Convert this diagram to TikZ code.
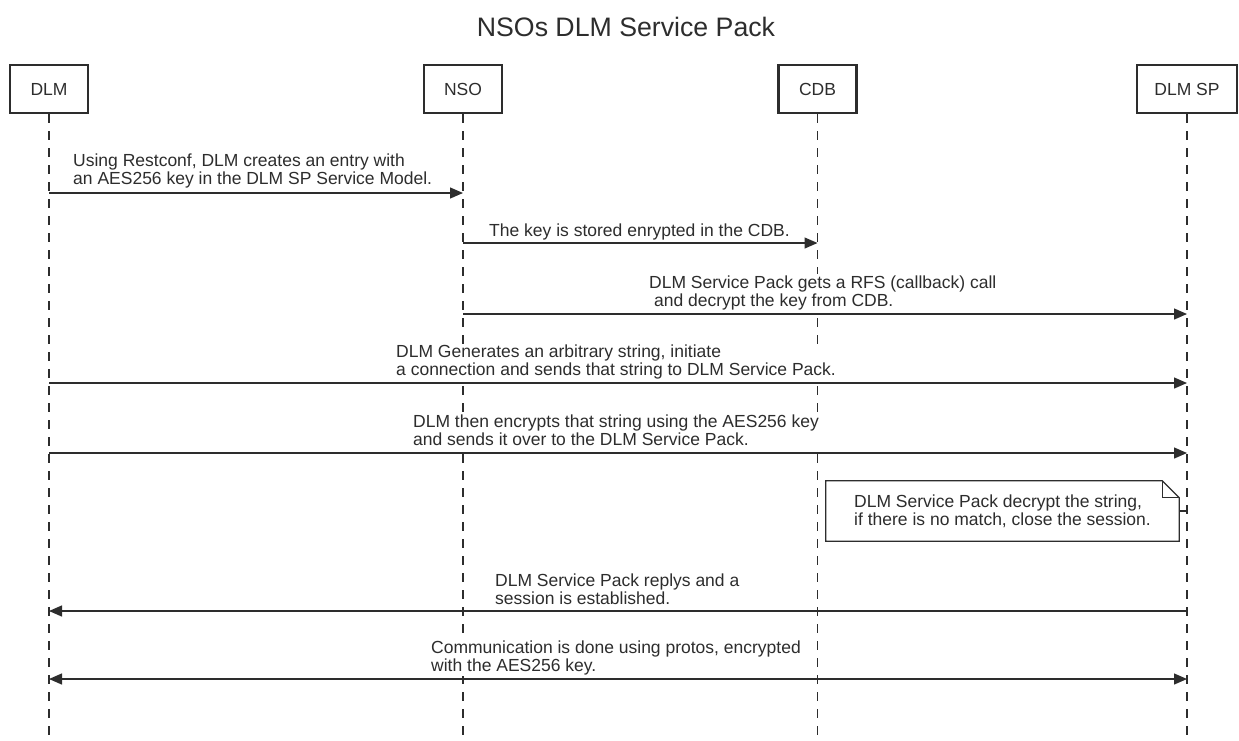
\documentclass[tikz,border=0pt]{standalone}
\usepackage{fontspec}
\setmainfont{Liberation Sans}
\usepackage{tikz}
\usetikzlibrary{arrows.meta, positioning, calc}
\definecolor{inkcolor}{RGB}{45,45,45}
\newcommand\msgfont{\fontsize{17.5}{18}\selectfont}

\begin{document}
\begin{tikzpicture}[
    x=1pt, y=-1pt,
    every node/.style={text=inkcolor},
    actor/.style={draw=inkcolor, line width=2.4pt, minimum width=78pt, minimum height=48pt, inner sep=0pt, font=\msgfont},
    lifeline/.style={draw=inkcolor, line width=1.4pt, dash pattern=on 9pt off 8pt},
    msg/.style={draw=inkcolor, line width=1.3pt, -{Triangle[length=13pt, width=11pt]}},
    msgboth/.style={draw=inkcolor, line width=1.3pt, {Triangle[length=13pt, width=11pt]}-{Triangle[length=13pt, width=11pt]}},
    msglabel/.style={anchor=west, align=left, fill=white, inner xsep=0pt, inner ysep=1pt, font=\msgfont},
    notebox/.style={minimum width=353pt, minimum height=60pt, inner sep=0pt, align=left, font=\msgfont},
]
    \useasboundingbox (0,0) rectangle (1239,740);

    % Title
    \node[font=\fontsize{26.7}{30}\selectfont] (title) at (626,27) {NSOs DLM Service Pack};

    % Participants
    \node[actor] (dlm) at (49,89) {DLM};
    \node[actor] (nso) at (463,89) {NSO};
    \node[actor] (cdb) at (817.5,89) {CDB};
    \node[actor, minimum width=100pt] (dlmsp) at (1187,89) {DLM SP};

    % Lifelines
    \coordinate (bottom) at (0,737);
    \foreach \p in {dlm,nso,cdb,dlmsp}
        \draw[lifeline] (\p.south) -- (\p |- bottom);

    % Message rows
    \coordinate (m1) at (0,193);
    \coordinate (m2) at (0,243);
    \coordinate (m3) at (0,314);
    \coordinate (m4) at (0,383);
    \coordinate (m5) at (0,453);
    \coordinate (m7) at (0,611);
    \coordinate (m8) at (0,679);

    % Messages
    \draw[msg] (dlm |- m1) -- (nso |- m1);
    \node[msglabel] (t1) at (73,171) {Using Restconf, DLM creates an entry with\\an AES256 key in the DLM SP Service Model.};

    \draw[msg] (nso |- m2) -- (cdb |- m2);
    \node[msglabel] (t2) at (489,232) {The key is stored enrypted in the CDB.};

    \draw[msg] (nso |- m3) -- (dlmsp |- m3);
    \node[msglabel] (t3) at (649,292.5) {DLM Service Pack gets a RFS (callback) call\\\hspace*{0.28em}and decrypt the key from CDB.};

    \draw[msg] (dlm |- m4) -- (dlmsp |- m4);
    \node[msglabel] (t4) at (396,362) {DLM Generates an arbitrary string, initiate\\a connection and sends that string to DLM Service Pack.};

    \draw[msg] (dlm |- m5) -- (dlmsp |- m5);
    \node[msglabel] (t5) at (413,430.5) {DLM then encrypts that string using the AES256 key\\and sends it over to the DLM Service Pack.};

    % Note
    \node[notebox] (note) at (1002.5,511) {DLM Service Pack decrypt the string,\\if there is no match, close the session.};
    \draw[draw=inkcolor, line width=1.2pt, fill=white] (note.north west) -- ([xshift=-17pt]note.north east) -- ([yshift=-17pt]note.north east) -- (note.south east) -- (note.south west) -- cycle;
    \draw[draw=inkcolor, line width=1.2pt] ([xshift=-17pt]note.north east) -- ++(0,17) -- ([yshift=-17pt]note.north east);
    \node[notebox] at (note) {DLM Service Pack decrypt the string,\\if there is no match, close the session.};
    \draw[draw=inkcolor, line width=1.2pt] (note.east) -- (dlmsp |- note.east);

    \draw[msg] (dlmsp |- m7) -- (dlm |- m7);
    \node[msglabel] (t7) at (495,589) {DLM Service Pack replys and a\\session is established.};

    \draw[msgboth] (dlm |- m8) -- (dlmsp |- m8);
    \node[msglabel] (t8) at (431,657.5) {Communication is done using protos, encrypted\\with the AES256 key.};

\end{tikzpicture}
\end{document}
